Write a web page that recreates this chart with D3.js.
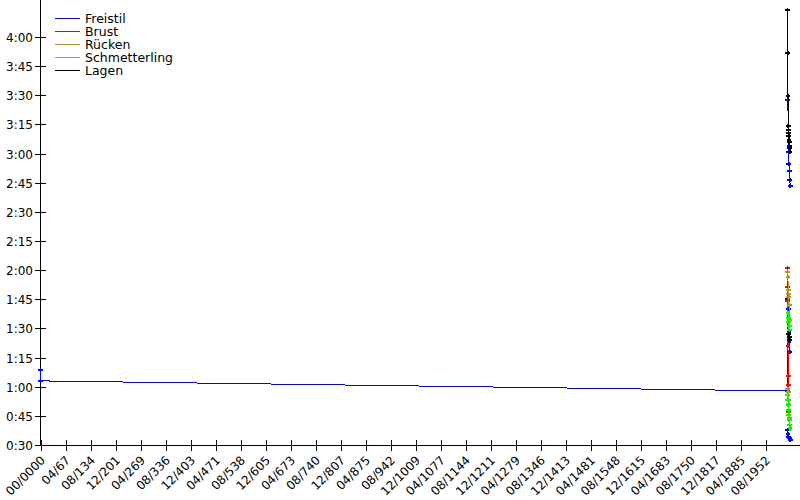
<!DOCTYPE html>
<html>
<head>
<meta charset="utf-8">
<script src="https://cdn.jsdelivr.net/npm/d3@7"></script>
<style>
  html, body { margin: 0; padding: 0; background: #fff; }
  svg { display: block; font-family: "DejaVu Sans", sans-serif; }
</style>
</head>
<body>
<svg id="chart" width="800" height="500"></svg>
<script>
// ---- data ----
const strokes = ["Freistil", "Brust", "Rücken", "Schmetterling", "Lagen"];
const strokeColors = ["#0000ff", "#ff0000", "#b8962e", "#00ff00", "#000000"];

const xTickMonths = d3.range(0, 30).map(k => k * 808);
const xTickLabels = ["00/0000", "04/67", "08/134", "12/201", "04/269", "08/336", "12/403", "04/471",
  "08/538", "12/605", "04/673", "08/740", "12/807", "04/875", "08/942", "12/1009", "04/1077",
  "08/1144", "12/1211", "04/1279", "08/1346", "12/1413", "04/1481", "08/1548", "12/1615",
  "04/1683", "08/1750", "12/1817", "04/1885", "08/1952"];

const yTickSeconds = [30, 45, 60, 75, 90, 105, 120, 135, 150, 165, 180, 195, 210, 225, 240];

// each series: stroke index, list of [date "YYYY-MM", time "m:ss.s"]
const freistil50 = [["2012-03", "0:37.7"], ["2013-05", "0:35.7"], ["2015-02", "0:34.1"], ["2017-04", "0:33.5"], ["2019-01", "0:32.6"]];
const freistil100 = [["0000-01", "1:08.5"], ["0000-01", "1:03.0"], ["2012-02", "0:57.8"], ["2012-10", "1:45.1"],
  ["2013-08", "1:40.0"], ["2014-09", "1:33.3"], ["2015-11", "1:28.2"], ["2016-10", "1:23.7"], ["2018-03", "1:17.9"]];
const freistil200 = [["2013-01", "3:27.6"], ["2014-06", "3:00.8"], ["2015-09", "2:54.6"], ["2016-11", "2:51.0"], ["2018-02", "2:46.4"], ["2019-05", "2:43.3"]];
const brust = [["2012-01", "2:01.1"], ["2012-06", "1:51.3"], ["2012-11", "1:44.1"], ["2013-04", "1:21.0"], ["2013-09", "1:05.5"],
  ["2014-02", "1:00.9"], ["2014-07", "0:51.1"], ["2014-12", "0:48.0"], ["2015-05", "0:47.0"]];
const ruecken100 = [["2012-04", "1:59.0"], ["2013-02", "1:56.5"], ["2013-11", "1:49.8"], ["2014-08", "1:47.7"], ["2015-06", "1:46.2"], ["2016-04", "1:42.1"], ["2017-03", "1:34.3"]];
const ruecken50 = [["2012-08", "0:58.8"], ["2013-07", "0:57.3"], ["2014-05", "0:53.2"], ["2015-03", "0:51.1"], ["2016-08", "0:43.9"]];
const schmetterling100 = [["2013-03", "1:37.9"], ["2014-03", "1:35.4"], ["2015-04", "1:33.3"], ["2016-06", "1:31.2"], ["2017-08", "1:29.2"]];
const schmetterling50 = [["2012-05", "0:55.7"], ["2012-12", "0:53.2"], ["2013-10", "0:50.6"], ["2014-10", "0:48.0"], ["2015-08", "0:45.4"],
  ["2016-07", "0:42.9"], ["2017-09", "0:40.3"], ["2018-11", "0:38.7"]];
const lagen200 = [["2012-02", "4:13.9"], ["2012-09", "3:51.8"], ["2013-04", "3:29.6"], ["2014-01", "3:14.2"], ["2014-07", "3:12.1"],
  ["2015-02", "3:10.6"], ["2015-09", "3:09.0"], ["2016-03", "3:07.0"], ["2016-10", "3:06.0"], ["2017-05", "3:03.9"], ["2018-01", "3:02.9"], ["2018-09", "3:00.8"]];
const lagen100 = [["2015-01", "1:27.1"], ["2016-05", "1:25.5"], ["2018-06", "1:24.0"]];

const series = [
  { stroke: 0, points: freistil50 },
  { stroke: 0, points: freistil100 },
  { stroke: 0, points: freistil200 },
  { stroke: 1, points: brust },
  { stroke: 2, points: ruecken100 },
  { stroke: 2, points: ruecken50 },
  { stroke: 3, points: schmetterling100 },
  { stroke: 3, points: schmetterling50 },
  { stroke: 4, points: lagen200 },
  { stroke: 4, points: lagen100 }
];

// ---- helpers ----
const toMonths = s => { const [y, m] = s.split("-").map(Number); return y * 12 + (m - 1); };
const toSeconds = s => { const [m, r] = s.split(":"); return +m * 60 + parseFloat(r); };
const fmtTime = s => Math.floor(s / 60) + ":" + String(Math.round(s % 60)).padStart(2, "0");

// ---- chart ----
const svg = d3.select("#chart");
const W = 800, H = 500;
const x = d3.scaleLinear().domain([0, 808]).range([40.5, 65.5]);
const y = d3.scaleLinear().domain([30, 240]).range([445, 37]);
const xMax = x.invert(800);
const yTop = y.invert(0);

const g = svg.append("g").attr("shape-rendering", "crispEdges");

// axes lines
g.append("line").attr("x1", 40.5).attr("x2", 40.5).attr("y1", y(yTop)).attr("y2", y(30)).attr("stroke", "#000");
g.append("line").attr("x1", 40.5).attr("x2", x(xMax)).attr("y1", y(30) + 0.5).attr("y2", y(30) + 0.5).attr("stroke", "#000");

// y ticks
const yt = g.selectAll(".yt").data(yTickSeconds).enter().append("g");
yt.append("line").attr("x1", 35).attr("x2", 46).attr("y1", d => Math.round(y(d)) + 0.5).attr("y2", d => Math.round(y(d)) + 0.5).attr("stroke", "#000");
yt.append("text").attr("x", 33).attr("y", d => Math.round(y(d)) + 4.5).attr("text-anchor", "end")
  .attr("font-size", 12).attr("fill", "#000").text(fmtTime);

// x ticks
const xt = g.selectAll(".xt").data(xTickMonths).enter().append("g");
xt.append("line").attr("x1", d => Math.round(x(d)) + 0.5).attr("x2", d => Math.round(x(d)) + 0.5)
  .attr("y1", y(30) - 5).attr("y2", y(30) + 6).attr("stroke", "#000");
xt.append("text").attr("text-anchor", "end").attr("font-size", 12).attr("fill", "#000")
  .attr("transform", d => `translate(${Math.round(x(d)) + 5},${y(30) + 16}) rotate(-45)`)
  .text((d, i) => xTickLabels[i]);

// series
const line = d3.line().x(p => x(toMonths(p[0]))).y(p => y(toSeconds(p[1])));
const marker = d3.symbol().type(d3.symbolCross).size(13);
series.forEach(s => {
  const col = strokeColors[s.stroke];
  g.append("path").attr("d", line(s.points)).attr("fill", "none").attr("stroke", col).attr("stroke-width", 1);
  g.selectAll(null).data(s.points).enter().append("path")
    .attr("d", marker)
    .attr("transform", p => `translate(${x(toMonths(p[0]))},${y(toSeconds(p[1]))})`)
    .attr("fill", col);
});

// legend
const lg = svg.append("g");
strokes.forEach((name, i) => {
  const ly = 18 + i * 13;
  lg.append("line").attr("x1", 55).attr("x2", 80).attr("y1", ly + 0.5).attr("y2", ly + 0.5)
    .attr("stroke", strokeColors[i]).attr("shape-rendering", "crispEdges");
  lg.append("text").attr("x", 85).attr("y", ly + 5).attr("font-size", 12.5).attr("fill", "#000").text(name);
});
</script>
</body>
</html>
